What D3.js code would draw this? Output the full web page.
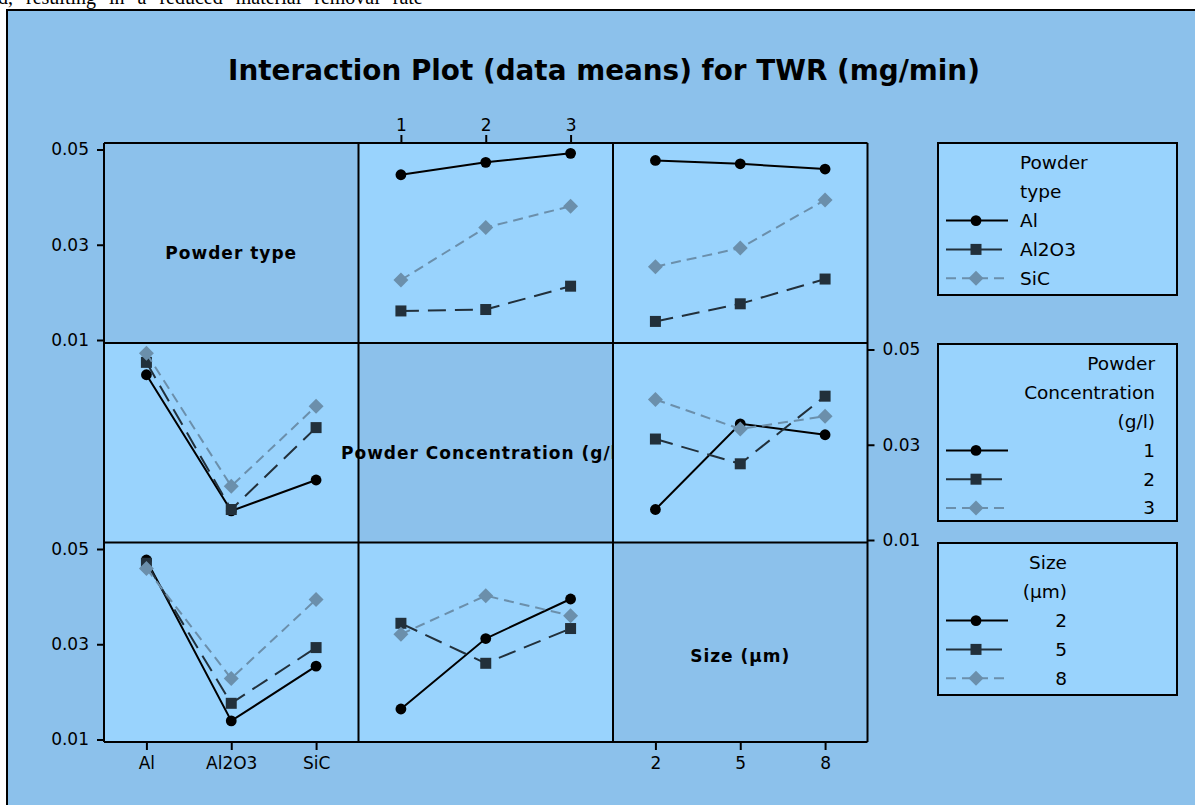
<!DOCTYPE html>
<html>
<head>
<meta charset="utf-8">
<script src="https://cdn.jsdelivr.net/npm/d3@7"></script>
<style>
  body { margin: 0; background: #fff; }
  svg { display: block; }
</style>
</head>
<body>
<script>
// factor levels
const powderTypes = ["Al", "Al2O3", "SiC"];
const concentrations = ["1", "2", "3"];
const sizes = ["2", "5", "8"];
const yTicks = [0.01, 0.03, 0.05];

// data means (rows = first factor levels, cols = second factor levels)
const typeByConc = [
  [0.0447, 0.0473, 0.0492],
  [0.0161, 0.0164, 0.0213],
  [0.0226, 0.0336, 0.0381]
];
const typeBySize = [
  [0.0477, 0.0470, 0.0459],
  [0.0139, 0.0176, 0.0228],
  [0.0254, 0.0293, 0.0394]
];
const concBySize = [
  [0.0164, 0.0344, 0.0321],
  [0.0312, 0.0260, 0.0402],
  [0.0395, 0.0333, 0.0360]
];

const factors = [
  { label: "Powder type", levels: powderTypes, legend: ["Powder", "type"] },
  { label: "Powder Concentration (g/l)", levels: concentrations, legend: ["Powder", "Concentration", "(g/l)"] },
  { label: "Size (µm)", levels: sizes, legend: ["Size", "(µm)"] }
];

const tables = { "0-1": typeByConc, "0-2": typeBySize, "1-2": concBySize };

function means(a, b) {
  if (tables[a + "-" + b]) return tables[a + "-" + b];
  const t = tables[b + "-" + a];
  return t[0].map((_, j) => t.map(row => row[j]));
}

const width = 1195;
const height = 805;
const gridLeft = 104;
const colW = 254.5;
const rowTops = [143, 343, 542.5];
const rowH = 199.5;
const bg = "#8cc1eb";
const panelFill = "#99d3fd";
const font = "'DejaVu Sans', Verdana, sans-serif";

const seriesStyle = [
  { color: "#000", dash: null, symbol: "circle" },
  { color: "#22303b", dash: "18,9", symbol: "square" },
  { color: "#6b8fab", dash: "10,6", symbol: "diamond" }
];

const svg = d3.select("body").append("svg")
  .attr("width", width)
  .attr("height", height)
  .attr("viewBox", [0, 0, width, height]);

// cut-off line of page text above the figure
svg.append("text")
  .attr("x", -2)
  .attr("y", 4)
  .attr("font-family", "'Liberation Serif', serif")
  .attr("font-size", 20)
  .attr("word-spacing", 8)
  .attr("fill", "#000")
  .text("d, resulting in a reduced material removal rate");

// figure background
svg.append("rect")
  .attr("x", 7).attr("y", 10)
  .attr("width", width + 10).attr("height", height)
  .attr("fill", bg)
  .attr("stroke", "#000")
  .attr("stroke-width", 2);

// title
const title = svg.append("text")
  .attr("x", 604)
  .attr("y", 80)
  .attr("text-anchor", "middle")
  .attr("font-family", font)
  .attr("font-weight", "bold")
  .attr("font-size", 28)
  .attr("fill", "#000")
  .text("Interaction Plot (data means) for TWR (mg/min)");
const tw = title.node().getComputedTextLength();
title.attr("font-size", 28 * 752 / tw);

const x = d3.scalePoint().padding(0.5);

function yScale(r) {
  return d3.scaleLinear().domain([0.01, 0.05]).range([rowTops[r] + 197, rowTops[r] + 6.5]);
}

function marker(g, type, color, cx, cy) {
  if (type === "circle") {
    g.append("circle").attr("cx", cx).attr("cy", cy).attr("r", 5.4).attr("fill", color);
  } else if (type === "square") {
    g.append("rect").attr("x", cx - 5.5).attr("y", cy - 5.5).attr("width", 11).attr("height", 11).attr("fill", color);
  } else {
    g.append("path")
      .attr("d", d3.symbol(d3.symbolSquare, 112)())
      .attr("transform", `translate(${cx},${cy}) rotate(45)`)
      .attr("fill", color);
  }
}

svg.append("defs").append("clipPath").attr("id", "clip-diag1")
  .append("rect")
  .attr("x", gridLeft).attr("y", rowTops[1])
  .attr("width", colW * 2).attr("height", rowH);

for (let r = 0; r < 3; r++) {
  const y = yScale(r);
  for (let c = 0; c < 3; c++) {
    const x0 = gridLeft + c * colW;
    const g = svg.append("g");
    g.append("rect")
      .attr("x", x0).attr("y", rowTops[r])
      .attr("width", colW).attr("height", rowH)
      .attr("fill", r === c ? bg : panelFill);

    if (r === c) continue;

    const xs = x.copy().domain(factors[c].levels).range([x0, x0 + colW]);
    const m = means(r, c);
    const line = d3.line()
      .x((d, j) => xs(factors[c].levels[j]))
      .y(d => y(d));

    m.forEach((vals, i) => {
      const st = seriesStyle[i];
      g.append("path")
        .datum(vals)
        .attr("fill", "none")
        .attr("stroke", st.color)
        .attr("stroke-width", 2)
        .attr("stroke-dasharray", st.dash)
        .attr("d", line);
      vals.forEach((v, j) => marker(g, st.symbol, st.color, xs(factors[c].levels[j]), y(v)));
    });
  }
}

// diagonal labels
const diagLabel = [
  { x: gridLeft + colW / 2, y: rowTops[0] + 116, anchor: "middle" },
  { x: 341, y: rowTops[1] + 116, anchor: "start" },
  { x: gridLeft + 2.5 * colW, y: rowTops[2] + 119, anchor: "middle" }
];
factors.forEach((f, i) => {
  svg.append("text")
    .attr("x", diagLabel[i].x)
    .attr("y", diagLabel[i].y)
    .attr("text-anchor", diagLabel[i].anchor)
    .attr("font-family", font)
    .attr("font-weight", "bold")
    .attr("font-size", 17)
    .attr("letter-spacing", 1)
    .attr("clip-path", i === 1 ? "url(#clip-diag1)" : null)
    .text(f.label);
});

// grid lines
const gridG = svg.append("g").attr("stroke", "#000").attr("stroke-width", 2);
for (let c = 0; c <= 3; c++) {
  gridG.append("line")
    .attr("x1", gridLeft + c * colW).attr("x2", gridLeft + c * colW)
    .attr("y1", rowTops[0]).attr("y2", rowTops[2] + rowH);
}
for (let r = 0; r <= 3; r++) {
  const yy = r < 3 ? rowTops[r] : rowTops[2] + rowH;
  gridG.append("line")
    .attr("x1", gridLeft).attr("x2", gridLeft + 3 * colW)
    .attr("y1", yy).attr("y2", yy);
}

function styleAxis(sel) {
  sel.select(".domain").remove();
  sel.selectAll(".tick line").attr("stroke", "#000").attr("stroke-width", 2);
  sel.selectAll(".tick text")
    .attr("font-family", font)
    .attr("font-size", 17)
    .attr("fill", "#000");
}

const fmt = d3.format(".2f");

// left y axes for rows 1 and 3, right axis for row 2
[0, 2].forEach(r => {
  svg.append("g")
    .attr("transform", `translate(${gridLeft},0)`)
    .call(d3.axisLeft(yScale(r)).tickValues(yTicks).tickFormat(fmt).tickSize(7).tickPadding(8))
    .call(styleAxis);
});
svg.append("g")
  .attr("transform", `translate(${gridLeft + 3 * colW},0)`)
  .call(d3.axisRight(yScale(1)).tickValues(yTicks).tickFormat(fmt).tickSize(7).tickPadding(8))
  .call(styleAxis);

// x axes: bottom for cols 1 and 3, top for col 2
const bottomY = rowTops[2] + rowH;
[0, 2].forEach(c => {
  const xs = x.copy().domain(factors[c].levels).range([gridLeft + c * colW, gridLeft + (c + 1) * colW]);
  svg.append("g")
    .attr("transform", `translate(0,${bottomY})`)
    .call(d3.axisBottom(xs).tickSize(8).tickPadding(7))
    .call(styleAxis);
});
{
  const xs = x.copy().domain(factors[1].levels).range([gridLeft + colW, gridLeft + 2 * colW]);
  svg.append("g")
    .attr("transform", `translate(0,${rowTops[0]})`)
    .call(d3.axisTop(xs).tickSize(8).tickPadding(4))
    .call(styleAxis);
}

// legends
const legendBoxes = [
  { y: 143, h: 152, align: "start", tx: 1020 },
  { y: 344, h: 177, align: "end", tx: 1155 },
  { y: 543, h: 152, align: "end", tx: 1067 }
];
const lineStep = 28.8;

factors.forEach((f, i) => {
  const lb = legendBoxes[i];
  const g = svg.append("g");
  g.append("rect")
    .attr("x", 938).attr("y", lb.y)
    .attr("width", 239).attr("height", lb.h)
    .attr("fill", panelFill)
    .attr("stroke", "#000")
    .attr("stroke-width", 2);

  const rows = f.legend.concat(f.levels);
  rows.forEach((t, k) => {
    g.append("text")
      .attr("x", lb.tx)
      .attr("y", lb.y + 20 + k * lineStep)
      .attr("dy", "0.35em")
      .attr("text-anchor", lb.align)
      .attr("font-family", font)
      .attr("font-size", 18.5)
      .attr("fill", "#000")
      .text(t);
  });

  f.levels.forEach((lv, k) => {
    const st = seriesStyle[k];
    const cy = lb.y + 20 + (f.legend.length + k) * lineStep;
    g.append("line")
      .attr("x1", 946).attr("x2", k === 1 ? 1002 : 1008)
      .attr("y1", cy).attr("y2", cy)
      .attr("stroke", st.color)
      .attr("stroke-width", 2)
      .attr("stroke-dasharray", k === 2 ? "10,6" : null);
    marker(g, st.symbol, st.color, 976, cy);
  });
});
</script>
</body>
</html>
